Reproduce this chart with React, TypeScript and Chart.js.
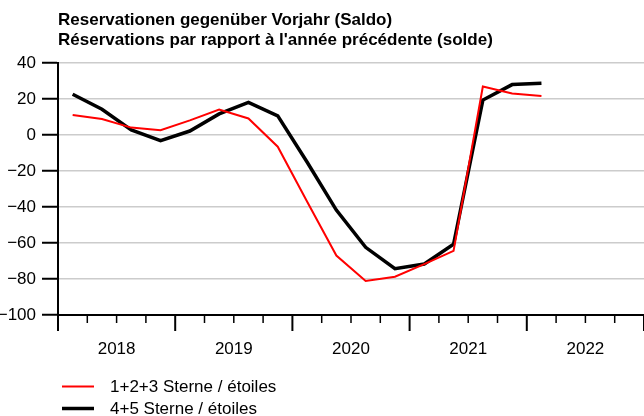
import React, { useEffect, useRef } from "react";
import { Chart, registerables } from "chart.js";

Chart.register(...registerables);

const titleLines = [
  "Reservationen gegenüber Vorjahr (Saldo)",
  "Réservations par rapport à l'année précédente (solde)",
];
const years = ["2018", "2019", "2020", "2021", "2022"];
const quarters = [
  "2018 Q1", "2018 Q2", "2018 Q3", "2018 Q4",
  "2019 Q1", "2019 Q2", "2019 Q3", "2019 Q4",
  "2020 Q1", "2020 Q2", "2020 Q3", "2020 Q4",
  "2021 Q1", "2021 Q2", "2021 Q3", "2021 Q4",
  "2022 Q1",
];
const stars123 = [11.1, 8.9, 4.1, 2.6, 8.1, 14.1, 9.2, -6.5, -37, -67, -81.1, -78.7, -71.7, -64.4, 26.9, 23.1, 21.7];
const stars45 = [22.6, 14.3, 2.8, -3.1, 2.2, 11.7, 18.1, 10.6, -15, -41.7, -62.4, -74.3, -71.7, -60.7, 19.4, 28, 28.7];
const seriesLabels = ["1+2+3 Sterne / étoiles", "4+5 Sterne / étoiles"];
const yTicks = [40, 20, 0, -20, -40, -60, -80, -100];

const FONT = "'Liberation Sans', Arial, sans-serif";

const toPoints = (vals: number[]) => vals.map((v, i) => ({ x: i + 0.5, y: v, q: quarters[i] }));

const axisTicksPlugin = {
  id: "axisTicks",
  afterDraw(chart: any) {
    const ctx = chart.ctx;
    const xs = chart.scales.x;
    const bottom = chart.chartArea.bottom;
    ctx.save();
    ctx.strokeStyle = "#000";
    for (let v = 0; v <= years.length * 4; v++) {
      const px = xs.getPixelForValue(v);
      const long = v % 4 === 0;
      ctx.lineWidth = long ? 2 : 1.5;
      ctx.beginPath();
      ctx.moveTo(px, bottom);
      ctx.lineTo(px, bottom + (long ? 16 : 8));
      ctx.stroke();
    }
    ctx.restore();
  },
};

const legendPlugin = {
  id: "customLegend",
  afterDraw(chart: any) {
    const ctx = chart.ctx;
    const base = chart.height - 29.5;
    ctx.save();
    ctx.font = `17px ${FONT}`;
    ctx.textBaseline = "middle";
    ctx.textAlign = "left";
    chart.data.datasets.forEach((ds: any, i: number) => {
      const y = base + i * 22;
      ctx.strokeStyle = ds.borderColor;
      ctx.lineWidth = ds.borderWidth;
      ctx.beginPath();
      ctx.moveTo(62, y);
      ctx.lineTo(94, y);
      ctx.stroke();
      ctx.fillStyle = "#000";
      ctx.fillText(ds.label, 110, y + 1);
    });
    ctx.restore();
  },
};

export default function App() {
  const ref = useRef<HTMLCanvasElement | null>(null);
  useEffect(() => {
    if (!ref.current) return;
    const chart = new Chart(ref.current, {
      type: "line",
      data: {
        datasets: [
          {
            label: seriesLabels[0],
            data: toPoints(stars123),
            borderColor: "#ff0000",
            backgroundColor: "#ff0000",
            borderWidth: 2,
            pointRadius: 0,
            tension: 0,
          },
          {
            label: seriesLabels[1],
            data: toPoints(stars45),
            borderColor: "#000000",
            backgroundColor: "#000000",
            borderWidth: 3.5,
            pointRadius: 0,
            tension: 0,
          },
        ],
      },
      options: {
        responsive: false,
        animation: false,
        layout: { padding: { left: 0, right: 0, top: 0, bottom: 61 } },
        plugins: {
          legend: { display: false },
          tooltip: { enabled: false },
          title: {
            display: true,
            text: titleLines,
            align: "start",
            fullSize: false,
            color: "#000",
            font: { family: FONT, size: 17, weight: "bold", lineHeight: 1.135 },
            padding: { top: 11, bottom: 13.4 },
          },
        },
        scales: {
          x: {
            type: "linear",
            min: 0,
            max: years.length * 4,
            afterBuildTicks(scale: any) {
              const t = [];
              for (let v = 0; v <= years.length * 4; v++) t.push({ value: v });
              scale.ticks = t;
            },
            afterFit(scale: any) {
              scale.height = 40;
              scale.paddingLeft = 0;
              scale.paddingRight = 0;
            },
            ticks: {
              autoSkip: false,
              maxRotation: 0,
              padding: 24,
              color: "#000",
              font: { family: FONT, size: 17 },
              callback: (v: any) => (Number(v) % 4 === 2 ? years[Math.floor(Number(v) / 4)] : ""),
            },
            grid: { display: true, drawOnChartArea: false, drawTicks: false },
            border: { display: true, color: "#000", width: 2 },
          },
          y: {
            min: -100,
            max: 40,
            afterBuildTicks(scale: any) {
              scale.ticks = yTicks.slice().reverse().map((v) => ({ value: v }));
            },
            afterFit(scale: any) {
              scale.width = 58;
            },
            ticks: {
              padding: 6,
              color: "#000",
              font: { family: FONT, size: 17 },
              callback: (v: any) => (Number(v) < 0 ? "\u2212" + Math.abs(Number(v)) : String(v)),
            },
            grid: {
              color: "#cccccc",
              lineWidth: 1.5,
              tickLength: 16,
              tickColor: "#000",
              tickWidth: 2,
            },
            border: { display: true, color: "#000", width: 2 },
          },
        },
      },
      plugins: [axisTicksPlugin, legendPlugin],
    } as any);
    return () => chart.destroy();
  }, []);
  return (
    <div style={{ position: "absolute", left: 0, top: 0, width: 644, height: 416 }}>
      <canvas ref={ref} width={644} height={416} style={{ display: "block" }} />
    </div>
  );
}
